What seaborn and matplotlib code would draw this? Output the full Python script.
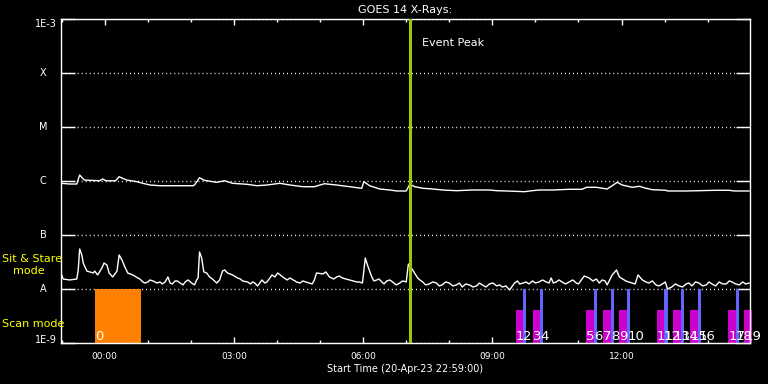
import numpy as np
import pandas as pd
import seaborn as sns
import matplotlib
matplotlib.use("Agg")
import matplotlib.pyplot as plt
import matplotlib.dates as mdates
import matplotlib.transforms as mtransforms
from matplotlib.ticker import NullLocator

START = pd.Timestamp("2023-04-20 22:59:00")
END = START + pd.Timedelta(hours=16)

# GOES long channel (1-8 A): minutes after start, flux in units of 1e-7 W/m^2
long_min = [0, 12, 22, 26, 31, 33, 54, 58, 63, 76,
            81, 88, 92, 106, 114, 124, 138, 184, 186, 193,
            199, 203, 217, 228, 239, 259, 273, 287, 305, 319,
            337, 353, 367, 384, 402, 419, 422, 430, 444, 458,
            468, 481, 486, 493, 504, 518, 532, 551, 573, 597,
            607, 621, 646, 653, 666, 685, 708, 726, 732, 746,
            761, 768, 775, 782, 796, 806, 815, 824, 843, 845,
            871, 913, 931, 938, 959]
long_flux = [9.06, 8.8, 8.8, 12.9, 10.9, 10.4, 10.1, 10.9, 10.1, 10.1,
             12.0, 10.9, 10.4, 9.7, 9.06, 8.43, 8.18, 8.18, 8.43, 11.5,
             10.4, 10.1, 9.46, 10.1, 9.06, 8.69, 8.18, 8.43, 9.06, 8.43,
             7.84, 7.84, 8.9, 8.43, 7.84, 7.33, 9.7, 8.18, 7.11, 6.81,
             6.53, 6.53, 8.69, 7.84, 7.33, 7.11, 6.81, 6.61, 6.81, 6.81,
             6.61, 6.53, 6.34, 6.53, 6.81, 6.81, 7.02, 7.02, 7.64, 7.64,
             7.11, 8.18, 9.46, 8.43, 7.64, 7.98, 7.33, 6.90, 6.73, 6.53,
             6.53, 6.73, 6.73, 6.53, 6.53]

# GOES short channel (0.5-4 A): minutes after start, flux in units of 1e-8 W/m^2
short_min = [0, 3, 12, 22, 24, 26, 29, 31, 36, 40,
             45, 47, 51, 57, 60, 64, 67, 72, 78, 81,
             85, 89, 93, 100, 107, 114, 121, 128, 134, 138,
             145, 149, 152, 159, 166, 170, 177, 182, 189, 191,
             193, 196, 199, 203, 207, 211, 217, 221, 225, 228,
             232, 239, 246, 253, 260, 267, 274, 280, 287, 294,
             302, 309, 319, 326, 328, 337, 346, 353, 356, 365,
             369, 374, 384, 392, 402, 412, 420, 424, 427, 433,
             440, 447, 454, 462, 472, 481, 484, 490, 497, 504,
             513, 523, 531, 541, 551, 559, 569, 579, 587, 597,
             607, 615, 625, 632, 639, 648, 657, 666, 676, 683,
             690, 698, 708, 718, 725, 729, 736, 746, 754, 761,
             768, 774, 778, 787, 796, 804, 810, 819, 829, 838,
             845, 851, 861, 871, 879, 889, 899, 907, 917, 927,
             935, 945, 954, 959]
short_flux = [1.98, 1.53, 1.47, 1.53, 2.25, 5.51, 4.26, 3.03, 2.15, 2.07,
              1.98, 2.15, 1.82, 2.45, 3.03, 2.78, 1.98, 1.67, 2.15, 4.26,
              3.44, 2.55, 1.98, 1.82, 1.60, 1.35, 1.35, 1.41, 1.29, 1.35,
              1.35, 1.67, 1.29, 1.41, 1.29, 1.19, 1.47, 1.29, 1.47, 1.60,
              4.84, 3.75, 2.07, 1.98, 1.67, 1.53, 1.29, 1.47, 2.15, 2.25,
              1.98, 1.82, 1.60, 1.41, 1.35, 1.35, 1.14, 1.47, 1.35, 1.82,
              1.98, 1.67, 1.60, 1.41, 1.35, 1.41, 1.29, 1.47, 1.98, 1.90,
              2.07, 1.67, 1.67, 1.60, 1.47, 1.35, 1.29, 3.75, 2.78, 1.67,
              1.47, 1.35, 1.41, 1.35, 1.29, 1.35, 2.90, 2.25, 1.60, 1.35,
              1.24, 1.29, 1.19, 1.29, 1.19, 1.09, 1.19, 1.14, 1.19, 1.24,
              1.14, 1.09, 0.96, 1.29, 1.24, 1.35, 1.41, 1.35, 1.35, 1.60,
              1.35, 1.35, 1.35, 1.29, 1.47, 1.74, 1.60, 1.53, 1.47, 1.19,
              1.82, 2.25, 1.67, 1.41, 1.29, 1.82, 1.47, 1.29, 1.19, 1.24,
              1.00, 1.09, 1.14, 1.24, 1.14, 1.29, 1.19, 1.24, 1.35, 1.24,
              1.35, 1.19, 1.24, 1.29]

# extra short-channel samples read between the ones above (the 1-min jitter)
short_extra_min = [110, 117, 124, 131, 141, 155, 162, 173, 186,
                   250, 264, 270, 284, 298, 315, 333, 341, 350, 380,
                   388, 397, 407, 416,
                   436, 443, 450, 458, 467, 476,
                   500, 508, 518, 527, 536, 546, 555, 564, 574, 583,
                   592, 602, 611, 620, 628, 636, 644, 652, 661, 671,
                   680, 686, 694, 703, 713, 721, 741, 750, 758,
                   791, 800, 815, 824, 833, 842, 856, 866, 875, 884,
                   894, 903, 912, 922, 931, 940, 950]
short_extra_flux = [1.53, 1.29, 1.47, 1.35, 1.24, 1.24, 1.41, 1.35, 1.19,
                    1.53, 1.24, 1.29, 1.29, 1.67, 1.47, 1.29, 1.35, 1.24, 1.53,
                    1.74, 1.53, 1.41, 1.35,
                    1.41, 1.53, 1.24, 1.47, 1.19, 1.41,
                    1.47, 1.19, 1.35, 1.14, 1.35, 1.14, 1.29, 1.24, 1.09, 1.29,
                    1.09, 1.29, 1.19, 1.14, 1.09, 1.41, 1.29, 1.24, 1.29, 1.47,
                    1.29, 1.29, 1.47, 1.24, 1.47, 1.24, 1.41, 1.29, 1.41,
                    1.35, 1.24, 1.35, 1.41, 1.14, 1.35, 1.24, 1.09, 1.29, 1.35,
                    1.14, 1.35, 1.14, 1.24, 1.41, 1.24, 1.35]

event_peak = "2023-04-21 07:05"

# observations: 0 = scan, then alternating rasters / stares
obs_start = ["2023-04-20 23:46", "2023-04-21 09:33", "2023-04-21 09:43",
             "2023-04-21 09:56", "2023-04-21 10:07", "2023-04-21 11:11",
             "2023-04-21 11:22", "2023-04-21 11:34", "2023-04-21 11:46",
             "2023-04-21 11:57", "2023-04-21 12:08", "2023-04-21 12:49",
             "2023-04-21 12:59", "2023-04-21 13:12", "2023-04-21 13:23",
             "2023-04-21 13:36", "2023-04-21 13:47", "2023-04-21 14:29",
             "2023-04-21 14:39", "2023-04-21 14:51"]
obs_dur = [64, 10, 4, 11, 4, 11, 4, 12, 4, 11, 4, 10, 6, 11, 4, 11, 4, 10, 4, 11]
obs_kind = ["scan", "raster", "stare", "raster", "stare", "raster", "stare",
            "raster", "stare", "raster", "stare", "raster", "stare", "raster",
            "stare", "raster", "stare", "raster", "stare", "raster"]

kind_color = {"scan": "#ff8000", "raster": "#cc00cc", "stare": "#6464ff"}
kind_top = {"scan": 1e-8, "raster": 4.1e-9, "stare": 1e-8}

levels = [1e-9, 1e-8, 1e-7, 1e-6, 1e-5, 1e-4, 1e-3]
level_names = ["1E-9", "A", "B", "C", "M", "X", "1E-3"]

sns.set_style("dark", rc={
    "axes.facecolor": "black", "figure.facecolor": "black",
    "axes.edgecolor": "white", "text.color": "white",
    "axes.labelcolor": "white", "xtick.color": "white", "ytick.color": "white",
})
plt.rcParams["font.family"] = ["DejaVu Sans"]

fig = plt.figure(figsize=(7.68, 3.84), dpi=100)
ax = fig.add_axes([61 / 768, 41 / 384, 689 / 768, 324 / 384])

long_df = pd.DataFrame({"time": START + pd.to_timedelta(long_min, unit="m"),
                        "flux": np.array(long_flux) * 1e-7})
short_df = pd.DataFrame({"time": START + pd.to_timedelta(short_min + short_extra_min, unit="m"),
                         "flux": np.array(short_flux + short_extra_flux) * 1e-8})
short_df = short_df.sort_values("time")

sns.lineplot(data=long_df, x="time", y="flux", ax=ax, color="white",
             lw=1.0, estimator=None, sort=False, zorder=3)
sns.lineplot(data=short_df, x="time", y="flux", ax=ax, color="white",
             lw=1.0, estimator=None, sort=False, zorder=3)

# observation blocks along the bottom
for i, (t0, d, k) in enumerate(zip(obs_start, obs_dur, obs_kind)):
    t0 = pd.Timestamp(t0)
    ax.bar(t0, kind_top[k] - 1e-9, width=pd.Timedelta(minutes=d), bottom=1e-9,
           align="edge", color=kind_color[k], lw=0, zorder=1, clip_on=False)
    ax.text(t0, 1.13e-9, str(i), color="white", fontsize=9.5, ha="left",
            va="baseline", zorder=5, clip_on=False)

ax.axvline(pd.Timestamp(event_peak), color="#99cc00", lw=2.2, zorder=4)
ax.annotate("Event Peak", xy=(pd.Timestamp(event_peak), 1e-3), xytext=(8.5, -17),
            textcoords="offset points", color="white", fontsize=8,
            ha="left", va="center")

ax.set_yscale("log")
ax.set_ylim(1e-9, 1e-3)
ax.set_xlim(START, END)

ax.set_yticks(levels)
ax.set_yticklabels([])
ax.yaxis.set_minor_locator(NullLocator())
ax.tick_params(axis="y", which="major", direction="in", length=10, width=1,
               left=True, right=True, colors="white")
ax.yaxis.grid(True, color="white", lw=1, ls=(0, (0.7, 2.2)))
ax.xaxis.grid(False)

ylab_tr = mtransforms.blended_transform_factory(ax.transAxes, ax.transData)
for lv, name in zip(levels, level_names):
    if len(name) == 1:
        ax.text(-0.026, lv, name, transform=ylab_tr, fontsize=7,
                ha="center", va="center", color="white")
    else:
        ax.text(-0.006, lv, name, transform=ylab_tr, fontsize=7, ha="right",
                va="baseline" if lv == 1e-9 else "top", color="white")

ax.xaxis.set_major_locator(mdates.HourLocator(byhour=[0, 3, 6, 9, 12]))
ax.xaxis.set_minor_locator(mdates.HourLocator())
ax.xaxis.set_major_formatter(mdates.DateFormatter("%H:%M"))
ax.tick_params(axis="x", which="major", direction="in", length=4.5, width=1,
               top=True, bottom=True, labelsize=6.5, pad=6.5, colors="white")
ax.tick_params(axis="x", which="minor", direction="in", length=2.5, width=1,
               top=True, bottom=True, colors="white")

for s in ax.spines.values():
    s.set_color("white")
    s.set_linewidth(1)

ax.set_title("GOES 14 X-Rays:", color="white", fontsize=8, pad=4.5)
ax.set_xlabel("Start Time (20-Apr-23 22:59:00)", fontsize=7, labelpad=2.5)
ax.set_ylabel("")

fig.text(2 / 768, 1 - 259 / 384, "Sit & Stare", color="#ffff00", fontsize=8,
         ha="left", va="center")
fig.text(13 / 768, 1 - 271 / 384, "mode", color="#ffff00", fontsize=8,
         ha="left", va="center")
fig.text(2 / 768, 1 - 324 / 384, "Scan mode", color="#ffff00", fontsize=8,
         ha="left", va="center")

fig.savefig("out.png", dpi=100, facecolor="black")
